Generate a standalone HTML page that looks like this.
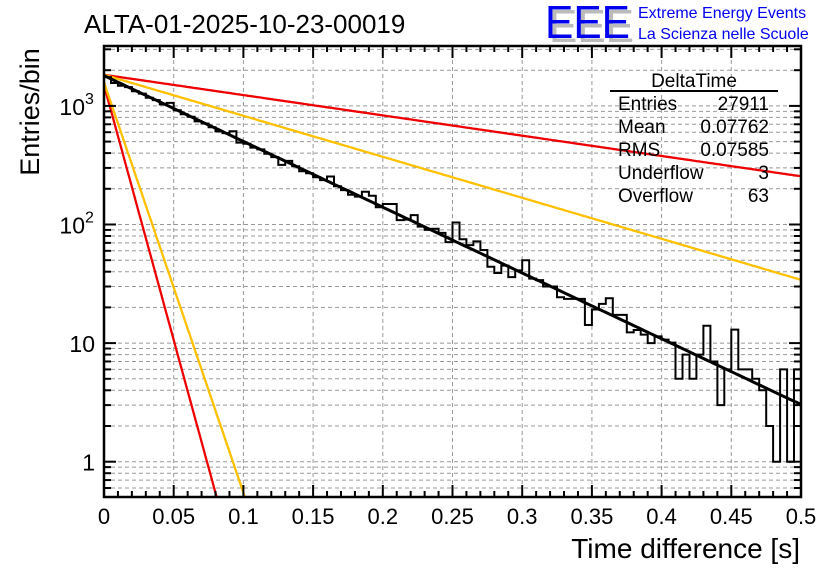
<!DOCTYPE html>
<html><head><meta charset="utf-8"><style>
body{margin:0;background:#fff;}
svg{display:block;font-family:"Liberation Sans",sans-serif;}
</style></head><body>
<svg id="c" width="836" height="572" xmlns="http://www.w3.org/2000/svg">
<text x="84" y="33" font-size="26">ALTA-01-2025-10-23-00019</text>
<g>
<text x="549" y="42" font-size="46" fill="#bbb" textLength="85" lengthAdjust="spacingAndGlyphs">EEE</text>
<text x="545" y="38" font-size="46" fill="#0000ee" textLength="85" lengthAdjust="spacingAndGlyphs">EEE</text>
<text x="638" y="18" font-size="16" fill="#0000ee">Extreme Energy Events</text>
<text x="638" y="39" font-size="16" fill="#0000ee">La Scienza nelle Scuole</text>
</g>
<g id="grid"></g>
<g id="curves"></g>
<path id="hist" fill="none" stroke="#000" stroke-width="2"/>
<g id="axes"></g>
<g font-size="19">
<text x="694" y="87" text-anchor="middle">DeltaTime</text>
<line x1="610" y1="91" x2="778" y2="91" stroke="#000" stroke-width="2"/>
<text x="618" y="110">Entries</text><text x="769" y="110" text-anchor="end">27911</text>
<text x="618" y="133">Mean</text><text x="769" y="133" text-anchor="end">0.07762</text>
<text x="618" y="156">RMS</text><text x="769" y="156" text-anchor="end">0.07585</text>
<text x="618" y="179">Underflow</text><text x="769" y="179" text-anchor="end">3</text>
<text x="618" y="202">Overflow</text><text x="769" y="202" text-anchor="end">63</text>
</g>
<text x="800" y="558" font-size="28" text-anchor="end">Time difference [s]</text>
<text transform="translate(39,112) rotate(-90)" font-size="27" text-anchor="middle">Entries/bin</text>
</svg>
<script>
const binCounts=[1750,1560,1480,1440,1330,1270,1170,1120,1030,1060,920,850,810,740,710,660,610,590,611,490,
480,445,430,395,370,318,344,310,281,270,250,237,254,210,195,178,172,189,175,140,
149,149,109,110,120,96,90,92,85,71,104,75,67,72,61,44,39,45,36,41,
50,35,34,30,30,24.4,23.6,23.6,23.6,14.2,19.2,21.4,23.9,17.3,17.3,12.3,12.9,11.8,10,11.4,
10.7,10.1,5,8,5,8,14,7,3,6,13,6,6,5,4,2,1,6,1,6];
const binRange=[0,0.5];
const fitAmps=[1500,1580,1830,1830,1800];
const fitTaus=[0.0101,0.01255,0.2537,0.1256,0.0783];
const fitColors=["#ee0000","#ffc000","#ee0000","#ffc000","#000000"];
const xTickLabels=["0","0.05","0.1","0.15","0.2","0.25","0.3","0.35","0.4","0.45","0.5"];
const yTickValues=[1,10,100,1000];
const yTickLabels=["1","10","10","10"];
const yTickExps=["","","2","3"];

const X0=104,X1=801,Y0=46,Y1=497;
const LY1=461.7,DEC=118.6;
const NS="http://www.w3.org/2000/svg";
const xs=t=>X0+(t-binRange[0])/(binRange[1]-binRange[0])*(X1-X0);
const ys=v=>LY1-DEC*Math.log10(v);
const vmin=Math.pow(10,(LY1-Y1)/DEC),vmax=Math.pow(10,(LY1-Y0)/DEC);
function mk(tag,attrs,parent){const e=document.createElementNS(NS,tag);for(const k in attrs)e.setAttribute(k,attrs[k]);parent.appendChild(e);return e;}
const grid=document.getElementById('grid'),axes=document.getElementById('axes'),curves=document.getElementById('curves');
for(let d=-1;d<=4;d++){for(let m=1;m<=9;m++){const v=m*Math.pow(10,d);if(v<vmin||v>vmax)continue;const y=ys(v);
 const g=mk('line',{x1:X0,x2:X1,y1:y,y2:y,stroke:'#999','stroke-dasharray':'4,3','stroke-width':1},grid);
 
 
 const L=m===1?12:7;
 mk('line',{x1:X0,x2:X0+L,y1:y,y2:y,stroke:'#000','stroke-width':2},axes);
 mk('line',{x1:X1-L,x2:X1,y1:y,y2:y,stroke:'#000','stroke-width':2},axes);
}}
for(let i=0;i<=50;i++){const t=binRange[0]+i*0.01;const x=xs(t);const major=i%5===0;
 if(major&&i>0&&i<50){const g=mk('line',{x1:x,x2:x,y1:Y0,y2:Y1,stroke:'#999','stroke-dasharray':'4,3','stroke-width':1},grid);
  
  }
 const L=major?12:6;
 mk('line',{x1:x,x2:x,y1:Y1,y2:Y1-L,stroke:'#000','stroke-width':2},axes);
 mk('line',{x1:x,x2:x,y1:Y0,y2:Y0+L,stroke:'#000','stroke-width':2},axes);
}
xTickLabels.forEach((s,i)=>{const t=mk('text',{x:xs(i*0.05),y:524,'font-size':22,'text-anchor':'middle'},axes);t.textContent=s;
 
 });
yTickValues.forEach((v,i)=>{const y=ys(v)+9;const t=mk('text',{x:yTickExps[i]?85:95,y:y,'font-size':23,'text-anchor':'end'},axes);t.textContent=yTickLabels[i];
 
 
 if(yTickExps[i]){const e=mk('text',{x:85,y:y-11,'font-size':16},axes);e.textContent=yTickExps[i];}});
mk('rect',{x:X0,y:Y0,width:X1-X0,height:Y1-Y0,fill:'none',stroke:'#000','stroke-width':2.5},axes);
fitAmps.forEach((A,k)=>{let d='';const n=300;for(let j=0;j<=n;j++){const t=binRange[0]+(binRange[1]-binRange[0])*j/n;let v=A*Math.exp(-t/fitTaus[k]);
 if(v<vmin){const tc=fitTaus[k]*Math.log(A/vmin);d+=(d?'L':'M')+xs(tc).toFixed(1)+','+Y1;break;}
 d+=(d?'L':'M')+xs(t).toFixed(1)+','+ys(v).toFixed(1);}
 const p=mk('path',{d:d,fill:'none',stroke:fitColors[k],'stroke-width':k===4?3:2.3},curves);
 
 });
const bw=(binRange[1]-binRange[0])/binCounts.length;let d='M'+xs(binRange[0])+','+Y1;
binCounts.forEach((v,i)=>{const y=v>0?Math.min(Y1,ys(v)):Y1;const xa=xs(binRange[0]+i*bw),xb=xs(binRange[0]+(i+1)*bw);d+='L'+xa.toFixed(1)+','+y.toFixed(1)+'L'+xb.toFixed(1)+','+y.toFixed(1);});
d+='L'+X1+','+Y1;
document.getElementById('hist').setAttribute('d',d);
</script>
</body></html>
